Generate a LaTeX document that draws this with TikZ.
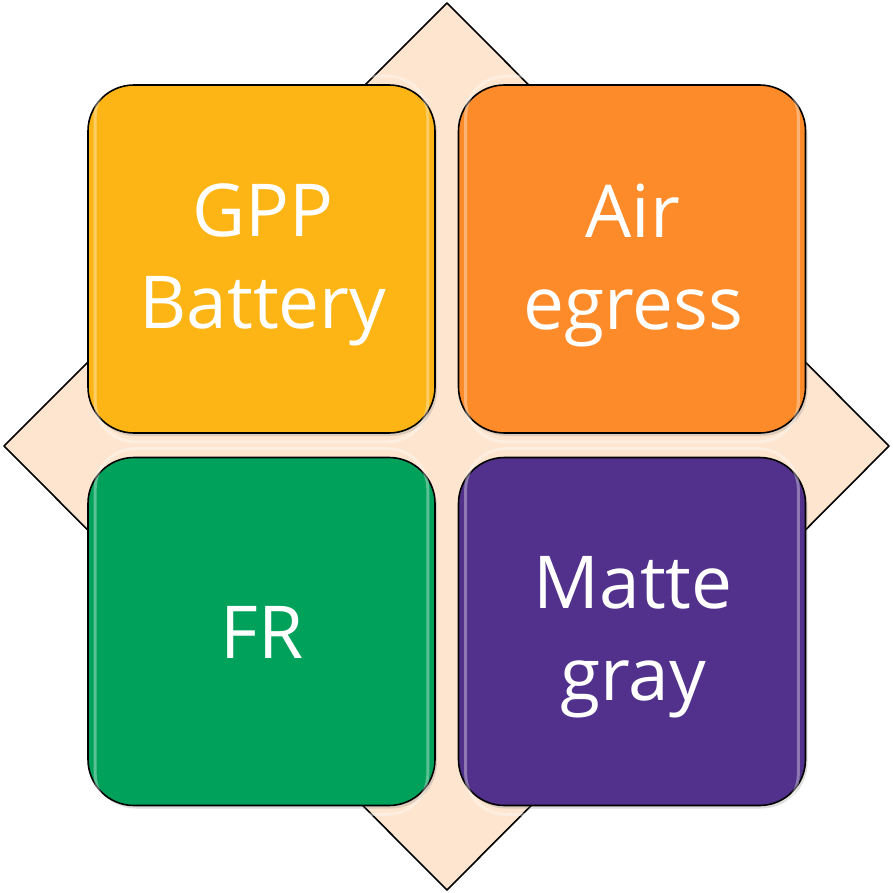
\documentclass[tikz,border=0pt]{standalone}
\usepackage{fontspec}
\setmainfont{Open Sans}
\usetikzlibrary{shapes.geometric,shadows}
\definecolor{cyellow}{HTML}{FDB515}
\definecolor{corange}{HTML}{FD8B2A}
\definecolor{cgreen}{HTML}{00A15A}
\definecolor{cpurple}{HTML}{51318C}
\definecolor{cpeach}{HTML}{FDE5D0}
\tikzset{
  tile/.style={draw=black, line width=1.6pt, rounded corners=46pt,
    minimum width=347pt, minimum height=348pt, inner sep=0pt,
    drop shadow={shadow xshift=2pt, shadow yshift=-3pt, opacity=0.25}},
  tiletext/.style={text=white, align=center, inner sep=0pt,
    font=\fontsize{73}{92}\selectfont},
  gloss/.style={draw=white, line width=3pt, opacity=0.35, rounded corners=40pt}
}
\begin{document}
\begin{tikzpicture}[x=1pt,y=-1pt]
\useasboundingbox (0,0) rectangle (892,893);
\coordinate (T) at (447,3);
\coordinate (R) at (889,446);
\coordinate (B) at (447,890);
\coordinate (L) at (4,446);
\draw[fill=cpeach, line width=1.6pt, line join=round] (T) -- (R) -- (B) -- (L) -- cycle;
\node[tile, fill=cyellow] (gpp) at (261.5,259) {};
\node[tile, fill=corange] (air) at (632,259) {};
\node[tile, fill=cgreen] (fr) at (261.5,631.5) {};
\node[tile, fill=cpurple] (matte) at (632,631.5) {};
\foreach \n in {gpp,air,fr,matte}{
  \draw[gloss] ([xshift=8pt,yshift=8pt]\n.north west) rectangle ([xshift=-8pt,yshift=-8pt]\n.south east);
}
\node[tiletext] (gppt) at (263,265) {GPP\\Battery};
\node[tiletext] (airt) at (633,265) {Air\\egress};
\node[tiletext] (frt) at (262,632) {FR};
\node[tiletext] (mattet) at (633,637) {Matte\\gray};
\end{tikzpicture}
\end{document}
